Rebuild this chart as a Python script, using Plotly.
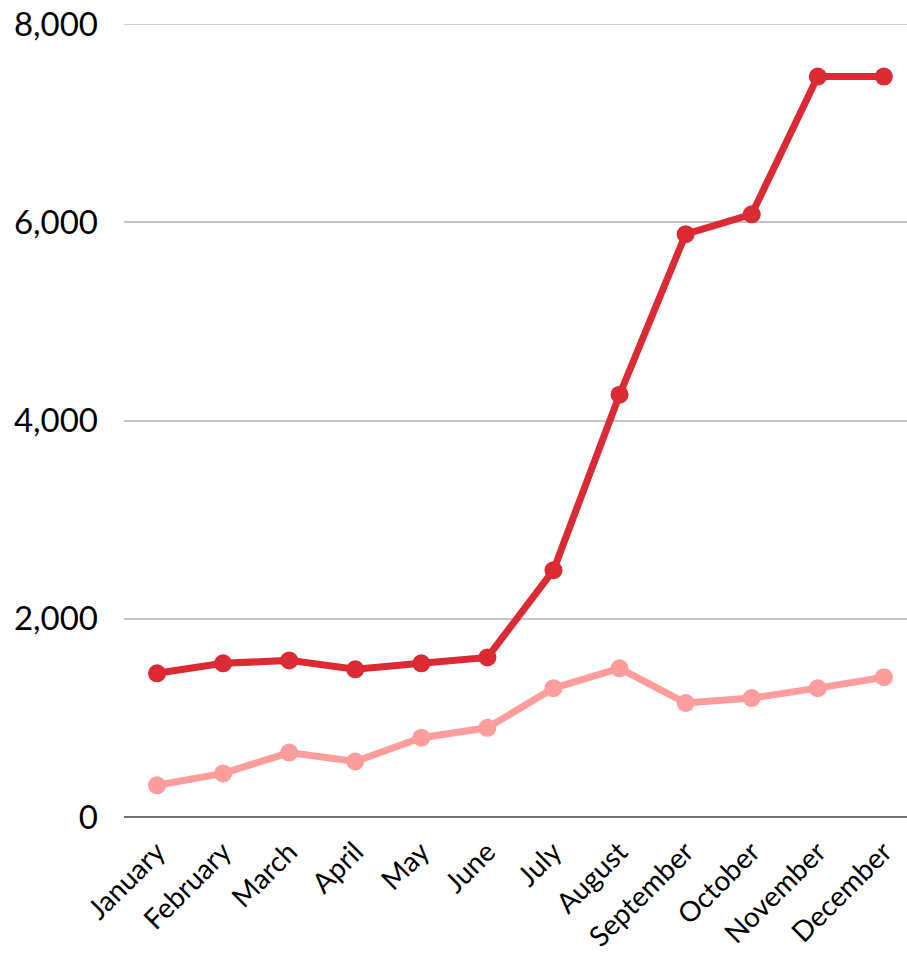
import plotly.graph_objects as go

months = ["January", "February", "March", "April", "May", "June", "July",
          "August", "September", "October", "November", "December"]
series_dark = [1450, 1550, 1580, 1490, 1550, 1610, 2490, 4260, 5880, 6080, 7470, 7470]
series_light = [320, 440, 650, 560, 800, 900, 1300, 1500, 1150, 1200, 1300, 1410]
y_ticks = [0, 2000, 4000, 6000, 8000]

fig = go.Figure()
fig.add_trace(go.Scatter(x=months, y=series_light, mode="lines+markers",
                         line=dict(color="#FF9C9C", width=7),
                         marker=dict(color="#FF9C9C", size=18), showlegend=False))
fig.add_trace(go.Scatter(x=months, y=series_dark, mode="lines+markers",
                         line=dict(color="#DC2A35", width=7),
                         marker=dict(color="#DC2A35", size=18), showlegend=False))

# top gridline (at the edge of the axis range)
fig.add_shape(type="line", xref="paper", yref="y", x0=0, x1=1,
              y0=y_ticks[-1], y1=y_ticks[-1],
              line=dict(color="#C4C4C4", width=1.5), layer="below")

fig.update_layout(
    width=907, height=960,
    margin=dict(l=124, r=0, t=24, b=143),
    paper_bgcolor="white", plot_bgcolor="white",
    font=dict(family="Lato, sans-serif", color="black"),
    xaxis=dict(range=[-0.5, 11.35], tickangle=-45, showgrid=False,
               tickfont=dict(size=28), ticks="", showline=False, zeroline=False,
               ticklabelstandoff=12, automargin=False),
    yaxis=dict(range=[0, 8000], tickvals=y_ticks, tickformat=",d",
               showgrid=True, gridcolor="#C4C4C4", gridwidth=1.5,
               zeroline=True, zerolinecolor="#707070", zerolinewidth=2,
               tickfont=dict(size=33), ticks="", ticklabelstandoff=25,
               automargin=False),
)
fig.write_html("out.html", config={"displayModeBar": False},
               post_script="document.body.style.margin='0';document.body.style.overflow='hidden';")
